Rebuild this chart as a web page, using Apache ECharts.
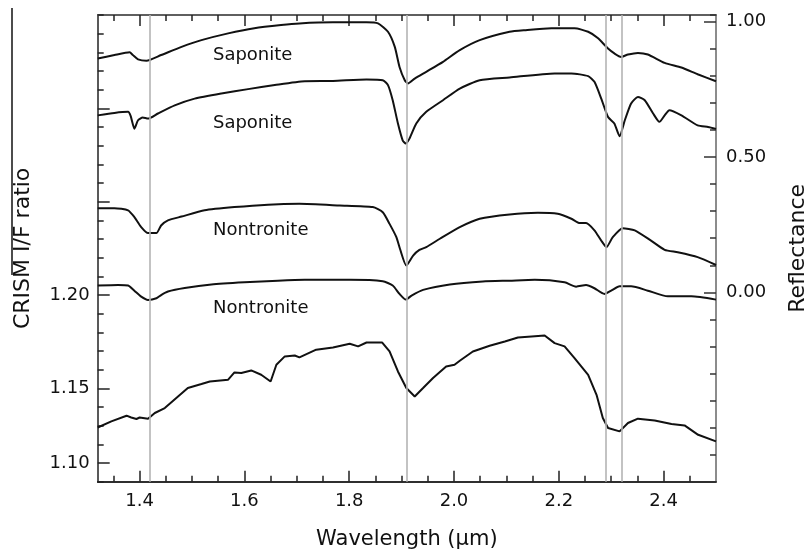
<!DOCTYPE html>
<html>
<head>
<meta charset="utf-8">
<script src="https://cdn.jsdelivr.net/npm/echarts@6/dist/echarts.min.js"></script>
<style>
  html, body { margin: 0; padding: 0; background: #fff; }
  #chart { width: 806px; height: 555px; }
</style>
</head>
<body>
<div id="chart"></div>
<script>
// reflectance spectra (right axis), [wavelength, reflectance]
const saponiteTop = [
  [1.32, 0.864], [1.352, 0.877], [1.381, 0.887], [1.387, 0.877], [1.397, 0.861], [1.413, 0.856],
  [1.441, 0.877], [1.48, 0.907], [1.518, 0.932], [1.569, 0.957], [1.619, 0.976], [1.67, 0.988],
  [1.705, 0.994], [1.769, 0.998], [1.833, 0.998], [1.855, 0.994], [1.874, 0.963], [1.887, 0.907],
  [1.896, 0.833], [1.906, 0.784], [1.912, 0.772], [1.925, 0.79], [1.947, 0.815], [1.979, 0.852],
  [2.011, 0.895], [2.049, 0.932], [2.106, 0.963], [2.135, 0.969], [2.186, 0.976], [2.23, 0.976],
  [2.256, 0.963], [2.275, 0.939], [2.294, 0.901], [2.306, 0.883], [2.319, 0.87], [2.332, 0.879],
  [2.351, 0.885], [2.37, 0.879], [2.402, 0.848], [2.434, 0.831], [2.465, 0.806], [2.5, 0.78]
];
const saponiteLow = [
  [1.32, 0.654], [1.352, 0.663], [1.378, 0.667], [1.383, 0.651], [1.39, 0.605], [1.397, 0.636],
  [1.406, 0.646], [1.416, 0.642], [1.435, 0.661], [1.467, 0.691], [1.505, 0.716], [1.556, 0.735],
  [1.607, 0.751], [1.658, 0.766], [1.715, 0.78], [1.769, 0.781], [1.833, 0.787], [1.864, 0.784],
  [1.874, 0.766], [1.883, 0.71], [1.893, 0.624], [1.902, 0.562], [1.908, 0.55], [1.915, 0.568],
  [1.928, 0.624], [1.947, 0.667], [1.979, 0.71], [2.011, 0.753], [2.049, 0.784], [2.106, 0.794],
  [2.192, 0.809], [2.224, 0.809], [2.256, 0.799], [2.268, 0.778], [2.281, 0.716], [2.294, 0.648],
  [2.306, 0.624], [2.316, 0.577], [2.326, 0.636], [2.338, 0.698], [2.351, 0.722], [2.364, 0.71],
  [2.38, 0.661], [2.392, 0.63], [2.402, 0.654], [2.411, 0.673], [2.434, 0.654], [2.465, 0.617],
  [2.485, 0.611], [2.5, 0.604]
];
const nontroniteTop = [
  [1.32, 0.311], [1.352, 0.311], [1.378, 0.303], [1.39, 0.278], [1.403, 0.241], [1.416, 0.219],
  [1.432, 0.219], [1.441, 0.247], [1.454, 0.266], [1.48, 0.28], [1.524, 0.303], [1.581, 0.315],
  [1.645, 0.324], [1.705, 0.327], [1.782, 0.321], [1.845, 0.315], [1.864, 0.296], [1.877, 0.253],
  [1.89, 0.204], [1.897, 0.16], [1.909, 0.099], [1.922, 0.136], [1.934, 0.157], [1.947, 0.167],
  [1.973, 0.198], [2.011, 0.241], [2.049, 0.272], [2.106, 0.288], [2.16, 0.294], [2.198, 0.29],
  [2.224, 0.272], [2.24, 0.256], [2.252, 0.256], [2.268, 0.229], [2.281, 0.191], [2.291, 0.167],
  [2.303, 0.204], [2.322, 0.237], [2.345, 0.229], [2.376, 0.191], [2.402, 0.157], [2.427, 0.148],
  [2.465, 0.13], [2.5, 0.101]
];
const nontroniteLow = [
  [1.32, 0.025], [1.359, 0.027], [1.378, 0.025], [1.39, 0.006], [1.403, -0.016], [1.416, -0.028],
  [1.432, -0.022], [1.441, -0.01], [1.454, 0.003], [1.486, 0.016], [1.537, 0.029], [1.6, 0.037],
  [1.664, 0.043], [1.715, 0.046], [1.801, 0.046], [1.864, 0.041], [1.883, 0.025], [1.896, -0.006],
  [1.908, -0.027], [1.919, -0.012], [1.941, 0.009], [1.992, 0.029], [2.055, 0.04], [2.106, 0.043],
  [2.154, 0.046], [2.211, 0.037], [2.233, 0.021], [2.252, 0.027], [2.268, 0.015], [2.287, -0.006],
  [2.3, 0.006], [2.316, 0.022], [2.338, 0.022], [2.37, 0.006], [2.408, -0.015], [2.453, -0.015],
  [2.5, -0.027]
];
// CRISM ratio spectrum (left axis), [wavelength, I/F ratio]
const crismRatio = [
  [1.32, 1.1238], [1.346, 1.1279], [1.375, 1.1317], [1.384, 1.1305], [1.394, 1.1295], [1.4, 1.1305],
  [1.416, 1.1297], [1.429, 1.1335], [1.448, 1.1368], [1.47, 1.1435], [1.492, 1.1502], [1.518, 1.1529],
  [1.534, 1.1546], [1.569, 1.1558], [1.581, 1.1607], [1.594, 1.1603], [1.613, 1.162], [1.632, 1.1591],
  [1.65, 1.1546], [1.661, 1.1658], [1.677, 1.1714], [1.696, 1.172], [1.705, 1.1707], [1.737, 1.1759],
  [1.769, 1.1774], [1.801, 1.1799], [1.817, 1.1781], [1.833, 1.1807], [1.863, 1.1807], [1.877, 1.1747],
  [1.893, 1.1613], [1.909, 1.1502], [1.925, 1.1446], [1.941, 1.1502], [1.96, 1.1569], [1.985, 1.1647],
  [2.001, 1.1658], [2.011, 1.1685], [2.036, 1.1747], [2.068, 1.1785], [2.097, 1.1814], [2.122, 1.1841],
  [2.148, 1.1848], [2.173, 1.1854], [2.192, 1.1803], [2.211, 1.1781], [2.23, 1.1703], [2.256, 1.1591],
  [2.272, 1.1457], [2.284, 1.1301], [2.294, 1.1234], [2.316, 1.1212], [2.332, 1.1268], [2.351, 1.1297],
  [2.383, 1.1285], [2.415, 1.1261], [2.44, 1.1252], [2.466, 1.1189], [2.5, 1.1145]
];
// mineral names, [wavelength, reflectance, name]
const mineralLabels = [
  [1.54, 0.875, 'Saponite'],
  [1.54, 0.624, 'Saponite'],
  [1.54, 0.229, 'Nontronite'],
  [1.54, -0.058, 'Nontronite']
];
// band positions (gray lines)
const bandCenters = [1.415, 1.911, 2.29, 2.316];

// tick values
const xMinorTicks = [1.35, 1.4, 1.45, 1.5, 1.55, 1.6, 1.65, 1.7, 1.75, 1.8, 1.85, 1.9, 1.95,
  2.0, 2.05, 2.1, 2.15, 2.2, 2.25, 2.3, 2.35, 2.4, 2.45];
const xMajorTicks = [1.4, 1.6, 1.8, 2.0, 2.2, 2.4];
const leftLongTicks = [1.10, 1.15, 1.2125, 1.275, 1.3375];
const leftLabelPos = [1.10, 1.15, 1.2125];
const leftLabelText = ['1.10', '1.15', '1.20'];
const rightMajorTicks = [0, 0.5, 1.0];

const FONT = 'DejaVu Sans';
const INK = '#111';

let chart = echarts.init(document.getElementById('chart'));

function xAxisDef(pos, ticks, len, withLabels) {
  return {
    type: 'value', position: pos, min: 1.32, max: 2.5,
    axisLine: { show: true, onZero: false, lineStyle: { color: pos === 'top' ? '#555' : '#222', width: 1.5 } },
    axisTick: { show: true, inside: true, length: len, customValues: ticks, lineStyle: { color: '#222', width: 1.5 } },
    axisLabel: withLabels ? {
      show: true, customValues: xMajorTicks, margin: 11, color: INK, fontSize: 18, fontFamily: FONT,
      formatter: function (v) { return v.toFixed(1); }
    } : { show: false },
    splitLine: { show: false }
  };
}

var option = {
  animation: false,
  backgroundColor: '#fff',
  grid: { left: 97.7, right: 90, top: 15, bottom: 73.3, containLabel: false, outerBoundsMode: 'none' },
  xAxis: [
    Object.assign(xAxisDef('bottom', xMinorTicks, 6, true), {
      name: 'Wavelength (μm)', nameLocation: 'middle', nameGap: 47,
      nameTextStyle: { color: INK, fontSize: 21, fontFamily: FONT }
    }),
    xAxisDef('bottom', xMajorTicks, 11, false),
    xAxisDef('top', xMinorTicks, 6, false),
    xAxisDef('top', xMajorTicks, 11, false)
  ],
  yAxis: [
    {
      // left, minor ticks
      type: 'value', position: 'left', min: 1.0875, max: 1.4, interval: 0.0125,
      axisLine: { show: true, onZero: false, lineStyle: { color: '#222', width: 1.5 } },
      axisTick: { show: true, inside: true, length: 6, lineStyle: { color: '#222', width: 1.5 } },
      axisLabel: { show: false },
      splitLine: { show: false },
      name: 'CRISM I/F ratio', nameLocation: 'middle', nameGap: 63,
      nameTextStyle: { color: INK, fontSize: 22, fontFamily: FONT }
    },
    {
      // left, long ticks + labels
      type: 'value', position: 'left', min: 1.0875, max: 1.4,
      axisLine: { show: false, onZero: false },
      axisTick: { show: true, inside: true, length: 12, customValues: leftLongTicks, lineStyle: { color: '#222', width: 1.5 } },
      axisLabel: {
        show: true, customValues: leftLabelPos, margin: 8, color: INK, fontSize: 18, fontFamily: FONT,
        formatter: function (v) {
          let i = leftLabelPos.findIndex(function (p) { return Math.abs(p - v) < 1e-6; });
          return i >= 0 ? leftLabelText[i] : '';
        }
      },
      splitLine: { show: false }
    },
    {
      // right, minor ticks
      type: 'value', position: 'right', min: -0.7, max: 1.025, interval: 0.1,
      axisLine: { show: true, onZero: false, lineStyle: { color: '#666', width: 1.5 } },
      axisTick: { show: true, inside: true, length: 6, lineStyle: { color: '#333', width: 1.5 } },
      axisLabel: { show: false },
      splitLine: { show: false },
      name: 'Reflectance', nameLocation: 'middle', nameGap: 71, nameRotate: 90,
      nameTextStyle: { color: INK, fontSize: 22, fontFamily: FONT }
    },
    {
      // right, long ticks + labels
      type: 'value', position: 'right', min: -0.7, max: 1.025,
      axisLine: { show: false, onZero: false },
      axisTick: { show: true, inside: true, length: 12, customValues: rightMajorTicks, lineStyle: { color: '#333', width: 1.5 } },
      axisLabel: {
        show: true, customValues: rightMajorTicks, margin: 10, color: INK, fontSize: 18, fontFamily: FONT,
        formatter: function (v) { return v.toFixed(2); }
      },
      splitLine: { show: false }
    }
  ],
  series: [
    {
      // band lines
      type: 'line', xAxisIndex: 0, yAxisIndex: 2, data: [], silent: true,
      markLine: {
        silent: true, symbol: ['none', 'none'], label: { show: false },
        lineStyle: { color: '#b4b4b4', width: 1.6, type: 'solid' },
        data: bandCenters.map(function (b) { return { xAxis: b }; })
      }
    },
    { name: 'Saponite lab', type: 'line', xAxisIndex: 0, yAxisIndex: 2, data: saponiteTop, showSymbol: false, smooth: 0.2, lineStyle: { color: INK, width: 2 } },
    { name: 'Saponite', type: 'line', xAxisIndex: 0, yAxisIndex: 2, data: saponiteLow, showSymbol: false, smooth: 0.2, lineStyle: { color: INK, width: 2 } },
    { name: 'Nontronite lab', type: 'line', xAxisIndex: 0, yAxisIndex: 2, data: nontroniteTop, showSymbol: false, smooth: 0.2, lineStyle: { color: INK, width: 2 } },
    { name: 'Nontronite', type: 'line', xAxisIndex: 0, yAxisIndex: 2, data: nontroniteLow, showSymbol: false, smooth: 0.2, lineStyle: { color: INK, width: 2 } },
    { name: 'CRISM', type: 'line', xAxisIndex: 0, yAxisIndex: 0, data: crismRatio, showSymbol: false, lineStyle: { color: INK, width: 2 } },
    {
      // mineral names
      type: 'scatter', xAxisIndex: 0, yAxisIndex: 2, symbolSize: 0, silent: true,
      data: mineralLabels,
      itemStyle: { opacity: 1 },
      label: {
        show: true, position: 'right', distance: 0, color: INK, opacity: 1, fontSize: 18, fontFamily: FONT,
        formatter: function (p) { return p.value[2]; }
      }
    }
  ],
  graphic: [
    { type: 'line', shape: { x1: 12, y1: 8, x2: 12, y2: 275 }, style: { stroke: '#111', lineWidth: 1.5 } }
  ]
};

chart.setOption(option);
</script>
</body>
</html>
